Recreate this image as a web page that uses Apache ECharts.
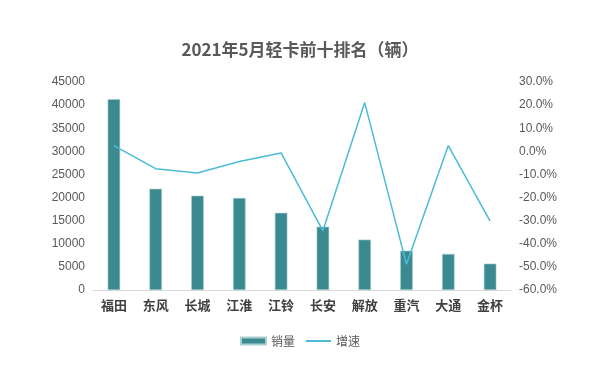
<!DOCTYPE html>
<html>
<head>
<meta charset="utf-8">
<script src="https://cdn.jsdelivr.net/npm/echarts@6/dist/echarts.min.js"></script>
<style>
  html, body { margin: 0; padding: 0; background: #fff; }
  #main { width: 600px; height: 376px; }
</style>
</head>
<body>
<div id="main"></div>
<script>
// 品牌
const brands = ['福田', '东风', '长城', '江淮', '江铃', '长安', '解放', '重汽', '大通', '金杯'];
// 销量（辆）
const sales = [41300, 21900, 20400, 19900, 16700, 13700, 10900, 8500, 7800, 5700];
// 增速（%）
const growth = [2.5, -7.5, -9.4, -4.4, -0.7, -34.4, 21.1, -48.9, 2.5, -30.2];

(function () {
    let myChart = echarts.init(document.getElementById('main'))
    const font = '"Noto Sans CJK SC", "Liberation Sans", sans-serif'
    let option = {
        animation: false,
        title: {
            text: '2021年5月轻卡前十排名（辆）',
            left: 'center',
            top: 36,
            textStyle: {
                color: '#595959',
                fontSize: 17,
                fontWeight: 'bold',
                fontFamily: font
            }
        },
        legend: {
            bottom: 24,
            left: 'center',
            itemWidth: 25,
            itemHeight: 7,
            itemGap: 10,
            textStyle: { color: '#595959', fontSize: 12, fontFamily: font },
            data: [
                { name: '销量', icon: 'rect' },
                // 折线图例只显示线条，不显示圆点
                { name: '增速', itemStyle: { opacity: 0 } }
            ]
        },
        grid: {
            left: 93,
            right: 89,
            top: 82,
            bottom: 86
        },
        xAxis: {
            type: 'category',
            data: brands,
            axisTick: { show: false },
            axisLine: { lineStyle: { color: '#d9d9d9', width: 1 } },
            axisLabel: {
                color: '#404040',
                fontSize: 13,
                fontWeight: 'bold',
                margin: 9,
                fontFamily: font
            }
        },
        yAxis: [
            {
                type: 'value',
                min: 0,
                max: 45000,
                interval: 5000,
                axisLine: { show: false },
                axisTick: { show: false },
                splitLine: { show: false },
                axisLabel: {
                    color: '#595959',
                    fontSize: 12,
                    margin: 8,
                    fontFamily: '"Liberation Sans", sans-serif',
                    formatter: function (v) { return String(v) }
                }
            },
            {
                type: 'value',
                min: -60,
                max: 30,
                interval: 10,
                axisLine: { show: false },
                axisTick: { show: false },
                splitLine: { show: false },
                axisLabel: {
                    color: '#595959',
                    fontSize: 12,
                    margin: 8,
                    fontFamily: '"Liberation Sans", sans-serif',
                    formatter: function (v) { return v.toFixed(1) + '%' }
                }
            }
        ],
        series: [
            {
                name: '销量',
                type: 'bar',
                data: sales,
                barWidth: '30%',
                itemStyle: {
                    color: '#3a8a8f',
                    borderColor: '#a9cfd1',
                    borderWidth: 0.6
                }
            },
            {
                name: '增速',
                type: 'line',
                yAxisIndex: 1,
                data: growth,
                symbol: 'none',
                lineStyle: { color: '#4bbcd6', width: 1.5 },
                itemStyle: { color: '#4bbcd6' }
            }
        ]
    }
    myChart.setOption(option)
})();
</script>
</body>
</html>
